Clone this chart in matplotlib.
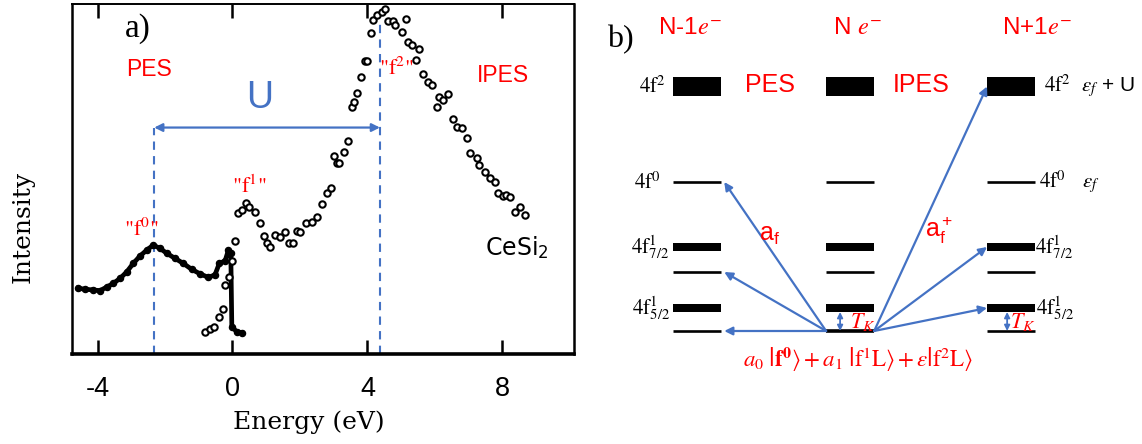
import matplotlib
matplotlib.use('Agg')
import matplotlib.pyplot as plt
from matplotlib.mathtext import MathTextParser

plt.rcParams['mathtext.fontset'] = 'stix'
plt.rcParams['font.family'] = ['Liberation Sans', 'DejaVu Sans']

# ---------------- panel a) data ----------------
pes_energy = [-4.57, -4.37, -4.12, -3.93, -3.73, -3.53, -3.33, -3.13, -2.94, -2.74,
              -2.54, -2.35, -2.15, -1.95, -1.70, -1.46, -1.21, -0.96, -0.72, -0.52,
              -0.39, -0.22, -0.12, -0.05, -0.02, 0.12, 0.27]
pes_intensity = [0.188, 0.185, 0.183, 0.181, 0.191, 0.202, 0.216, 0.235, 0.259, 0.280,
                 0.297, 0.311, 0.302, 0.288, 0.273, 0.259, 0.242, 0.229, 0.219, 0.226,
                 0.259, 0.266, 0.297, 0.288, 0.078, 0.064, 0.061]

ipes_energy = [-0.81, -0.67, -0.55, -0.39, -0.29, -0.22, -0.09, 0.00, 0.08, 0.17,
               0.27, 0.40, 0.50, 0.67, 0.81, 0.93, 1.03, 1.11, 1.26, 1.41,
               1.56, 1.68, 1.80, 1.90, 2.00, 2.18, 2.35, 2.49, 2.64, 2.79,
               2.91, 3.01, 3.09, 3.15, 3.31, 3.41, 3.53, 3.60, 3.70, 3.81,
               3.93, 3.99, 4.09, 4.17, 4.27, 4.42, 4.52, 4.62, 4.75, 4.81,
               5.01, 5.14, 5.21, 5.31, 5.44, 5.53, 5.64, 5.80, 5.90, 6.05,
               6.13, 6.23, 6.39, 6.54, 6.64, 6.79, 6.94, 7.04, 7.24, 7.31,
               7.48, 7.63, 7.78, 7.88, 8.02, 8.10, 8.22, 8.37, 8.52, 8.67]
ipes_intensity = [0.064, 0.071, 0.076, 0.105, 0.130, 0.197, 0.221, 0.267, 0.324, 0.402,
                  0.411, 0.432, 0.421, 0.407, 0.375, 0.337, 0.316, 0.307, 0.340, 0.335,
                  0.349, 0.316, 0.318, 0.352, 0.349, 0.375, 0.378, 0.392, 0.429, 0.459,
                  0.473, 0.566, 0.545, 0.545, 0.578, 0.609, 0.705, 0.721, 0.747, 0.792,
                  0.838, 0.838, 0.916, 0.954, 0.969, 0.978, 0.985, 0.950, 0.952, 0.940,
                  0.919, 0.956, 0.892, 0.883, 0.840, 0.871, 0.800, 0.778, 0.769, 0.707,
                  0.735, 0.726, 0.743, 0.670, 0.648, 0.645, 0.616, 0.573, 0.559, 0.540,
                  0.521, 0.502, 0.492, 0.461, 0.451, 0.455, 0.449, 0.407, 0.421, 0.397]

x_ticks = [-4, 0, 4, 8]
x_tick_labels = ['-4', '0', '4', '8']
f0_energy = -2.32          # "f0" peak position
f2_energy = 4.37           # "f2" peak position
u_arrow_level = 0.647
f2_line_top = 0.954

# ---------------- panel b) data ----------------
column_titles = ['N-1$e^{-}$', 'N $e^{-}$', 'N+1$e^{-}$']
level_energy = [0.0, 2.3, 5.9, 8.4, 14.9, 24.45]       # centres of the levels
level_thickness = [0.0, 0.8, 0.0, 0.8, 0.0, 1.9]       # 0 -> thin line
left_labels = ['', r'$\mathrm{4f}^{1}_{5/2}$', '', r'$\mathrm{4f}^{1}_{7/2}$',
               r'$\mathrm{4f}^{0}$', r'$\mathrm{4f}^{2}$']
right_labels = ['', r'$\mathrm{4f}^{1}_{5/2}$', '', r'$\mathrm{4f}^{1}_{7/2}$',
                r'$\mathrm{4f}^{0}$   $\varepsilon_f$', r'$\mathrm{4f}^{2}$  $\varepsilon_f$ + U']
pes_targets = [0, 2, 4]     # levels reached by a_f (N-1 column)
ipes_targets = [1, 3, 5]    # levels reached by a_f^+ (N+1 column)

RED = '#FF0000'
BLUE = '#4472C4'

fig = plt.figure(figsize=(11.42, 4.44), dpi=100)

# ======================= panel a =======================
W, H = 1142.0, 444.0
ax = fig.add_axes([72.3 / W, (H - 354) / H, (574 - 72.3) / W, 350 / H])
ax.set_xlim(-4.747, 10.12)
ax.set_ylim(0, 1)

ax.plot(pes_energy, pes_intensity, color='black', lw=3.4, marker='o', ms=4.4,
        mfc='black', mec='black', solid_joinstyle='round', zorder=3)
ax.plot(ipes_energy, ipes_intensity, ls='none', marker='o', ms=4.6, mfc='white',
        mec='black', mew=1.5, zorder=4)

ax.plot([f0_energy, f0_energy], [0, u_arrow_level], ls=(0, (4, 3)), color=BLUE, lw=1.5, zorder=2)
ax.plot([f2_energy, f2_energy], [0, f2_line_top], ls=(0, (4, 3)), color=BLUE, lw=1.5, zorder=2)
ax.annotate('', xy=(f0_energy, u_arrow_level), xytext=(f2_energy, u_arrow_level),
            arrowprops=dict(arrowstyle='<|-|>', color=BLUE, lw=1.6, mutation_scale=12,
                            shrinkA=0, shrinkB=0))
ax.text(0.81, 0.73, 'U', color=BLUE, fontsize=27, ha='center', va='center')
ax.text(-2.47, 0.813, 'PES', color=RED, fontsize=16.5, ha='center', va='center')
ax.text(8.02, 0.797, 'IPES', color=RED, fontsize=16.5, ha='center', va='center')
ax.text(-2.69, 0.356, '"f$^{0}$"', color=RED, fontsize=16, ha='center', va='center',
        family='STIXGeneral')
ax.text(0.50, 0.478, '"f$^{1}$"', color=RED, fontsize=16, ha='center', va='center',
        family='STIXGeneral')
ax.text(4.87, 0.816, '"f$^{2}$"', color=RED, fontsize=16, ha='center', va='center',
        family='STIXGeneral')
ax.text(8.42, 0.302, 'CeSi$_\\mathregular{2}$', fontsize=17, ha='center', va='center',
        family='DejaVu Sans')
ax.text(-2.8, 0.931, 'a)', fontsize=24, ha='center', va='center', family='Liberation Serif')

ax.set_xticks(x_ticks)
ax.set_xticklabels(x_tick_labels, fontsize=19.5)
ax.set_yticks([])
ax.tick_params(axis='x', direction='in', length=10, width=1.8, top=True, pad=16)
ax.spines['left'].set_linewidth(1.8)
ax.spines['right'].set_linewidth(1.8)
ax.spines['top'].set_linewidth(1.4)
ax.spines['bottom'].set_linewidth(2.6)

ax.set_xlabel('Energy (eV)', fontsize=18, family='DejaVu Serif')
ax.xaxis.label.set_va('center')
ax.xaxis.set_label_coords(0.472, (354 - 422) / 350)
ax.set_ylabel('Intensity', fontsize=18, family='DejaVu Serif')
ax.yaxis.label.set_va('center')
ax.yaxis.set_label_coords(-0.098, (354 - 227) / 350)

# ======================= panel b =======================
bx = fig.add_axes([590 / W, 0, (W - 590) / W, 1])
bx.set_xlim(-0.682, 2.834)
bx.set_ylim(-11.3, 33.1)
bx.axis('off')

col_x = [0.0, 0.975, 2.0]
half_w = 0.153

for ci, cx in enumerate(col_x):
    for li, (e, t) in enumerate(zip(level_energy, level_thickness)):
        if t > 0:
            bx.bar(cx, t, bottom=e - t / 2, width=2 * half_w, color='black', zorder=2)
        else:
            lw = 2.6 if (ci == 1 and li == 0) else 1.9
            bx.plot([cx - half_w, cx + half_w], [e, e], color='black', lw=lw,
                    solid_capstyle='butt', zorder=2)

left_label_x = [None, -0.172, None, -0.178, -0.233, -0.199]
right_label_x = [None, 2.16, None, 2.155, 2.18, 2.21]
for li, e in enumerate(level_energy):
    if left_labels[li]:
        bx.text(left_label_x[li], e, left_labels[li], ha='right', va='center', fontsize=15)
    if right_labels[li]:
        bx.text(right_label_x[li], e, right_labels[li], ha='left', va='center', fontsize=15)

title_x = [-0.045, 1.025, 2.166]
for tx, title in zip(title_x, column_titles):
    bx.text(tx, 30.3, title, color=RED, fontsize=17.5, ha='center', va='center')
bx.text(-0.49, 29.1, 'b)', fontsize=23, ha='center', va='center', family='Liberation Serif')
bx.text(0.465, 24.6, 'PES', color=RED, fontsize=18, ha='center', va='center')
bx.text(1.427, 24.6, 'IPES', color=RED, fontsize=18, ha='center', va='center')

arrow_kw = dict(arrowstyle='-|>', color=BLUE, lw=1.6, mutation_scale=12, shrinkA=0, shrinkB=0)
start_l = (col_x[1] - half_w, level_energy[0])
start_r = (col_x[1] + half_w, level_energy[0])
for li in pes_targets:
    bx.annotate('', xy=(col_x[0] + half_w + 0.02, level_energy[li]), xytext=start_l,
                arrowprops=arrow_kw)
for li in ipes_targets:
    bx.annotate('', xy=(col_x[2] - half_w, level_energy[li]), xytext=start_r,
                arrowprops=arrow_kw)

bx.text(0.462, 9.6, r'$\mathregular{a_f}$', color=RED, fontsize=18, ha='center', va='center')
bx.text(1.539, 10.1, r'$\mathregular{a_f^+}$', color=RED, fontsize=18, ha='center', va='center')

tk_kw = dict(arrowstyle='<|-|>', color=BLUE, lw=1.3, mutation_scale=8, shrinkA=0, shrinkB=0)
gap_top = level_energy[1] - level_thickness[1] / 2
for ax_x, tx in [(col_x[1] - 0.064, col_x[1] + 0.08), (col_x[2] - 0.025, col_x[2] + 0.075)]:
    bx.annotate('', xy=(ax_x, gap_top), xytext=(ax_x, level_energy[0]), arrowprops=tk_kw)
    bx.text(tx, 0.9, r'$T_K$', color=RED, fontsize=16, ha='center', va='center')

formula = (r'$a_0\ \left|\mathbf{f}^{\mathbf{0}}\right\rangle + a_1\ '
           r'\left|\mathrm{f}^{1}\underline{\mathrm{L}}\right\rangle + '
           r'\varepsilon\left|\mathrm{f}^{2}\underline{\mathrm{L}}\right\rangle$')
try:
    MathTextParser('agg').parse(formula, dpi=100)
except Exception:
    formula = (r'$a_0\ \left|\mathbf{f}^{\mathbf{0}}\right\rangle + a_1\ '
               r'\left|\mathrm{f}^{1}\mathrm{L}\right\rangle + '
               r'\varepsilon\left|\mathrm{f}^{2}\mathrm{L}\right\rangle$')
bx.text(1.023, -2.9, formula, color=RED, fontsize=16.5, ha='center', va='center')

fig.savefig('out.png', dpi=100)
